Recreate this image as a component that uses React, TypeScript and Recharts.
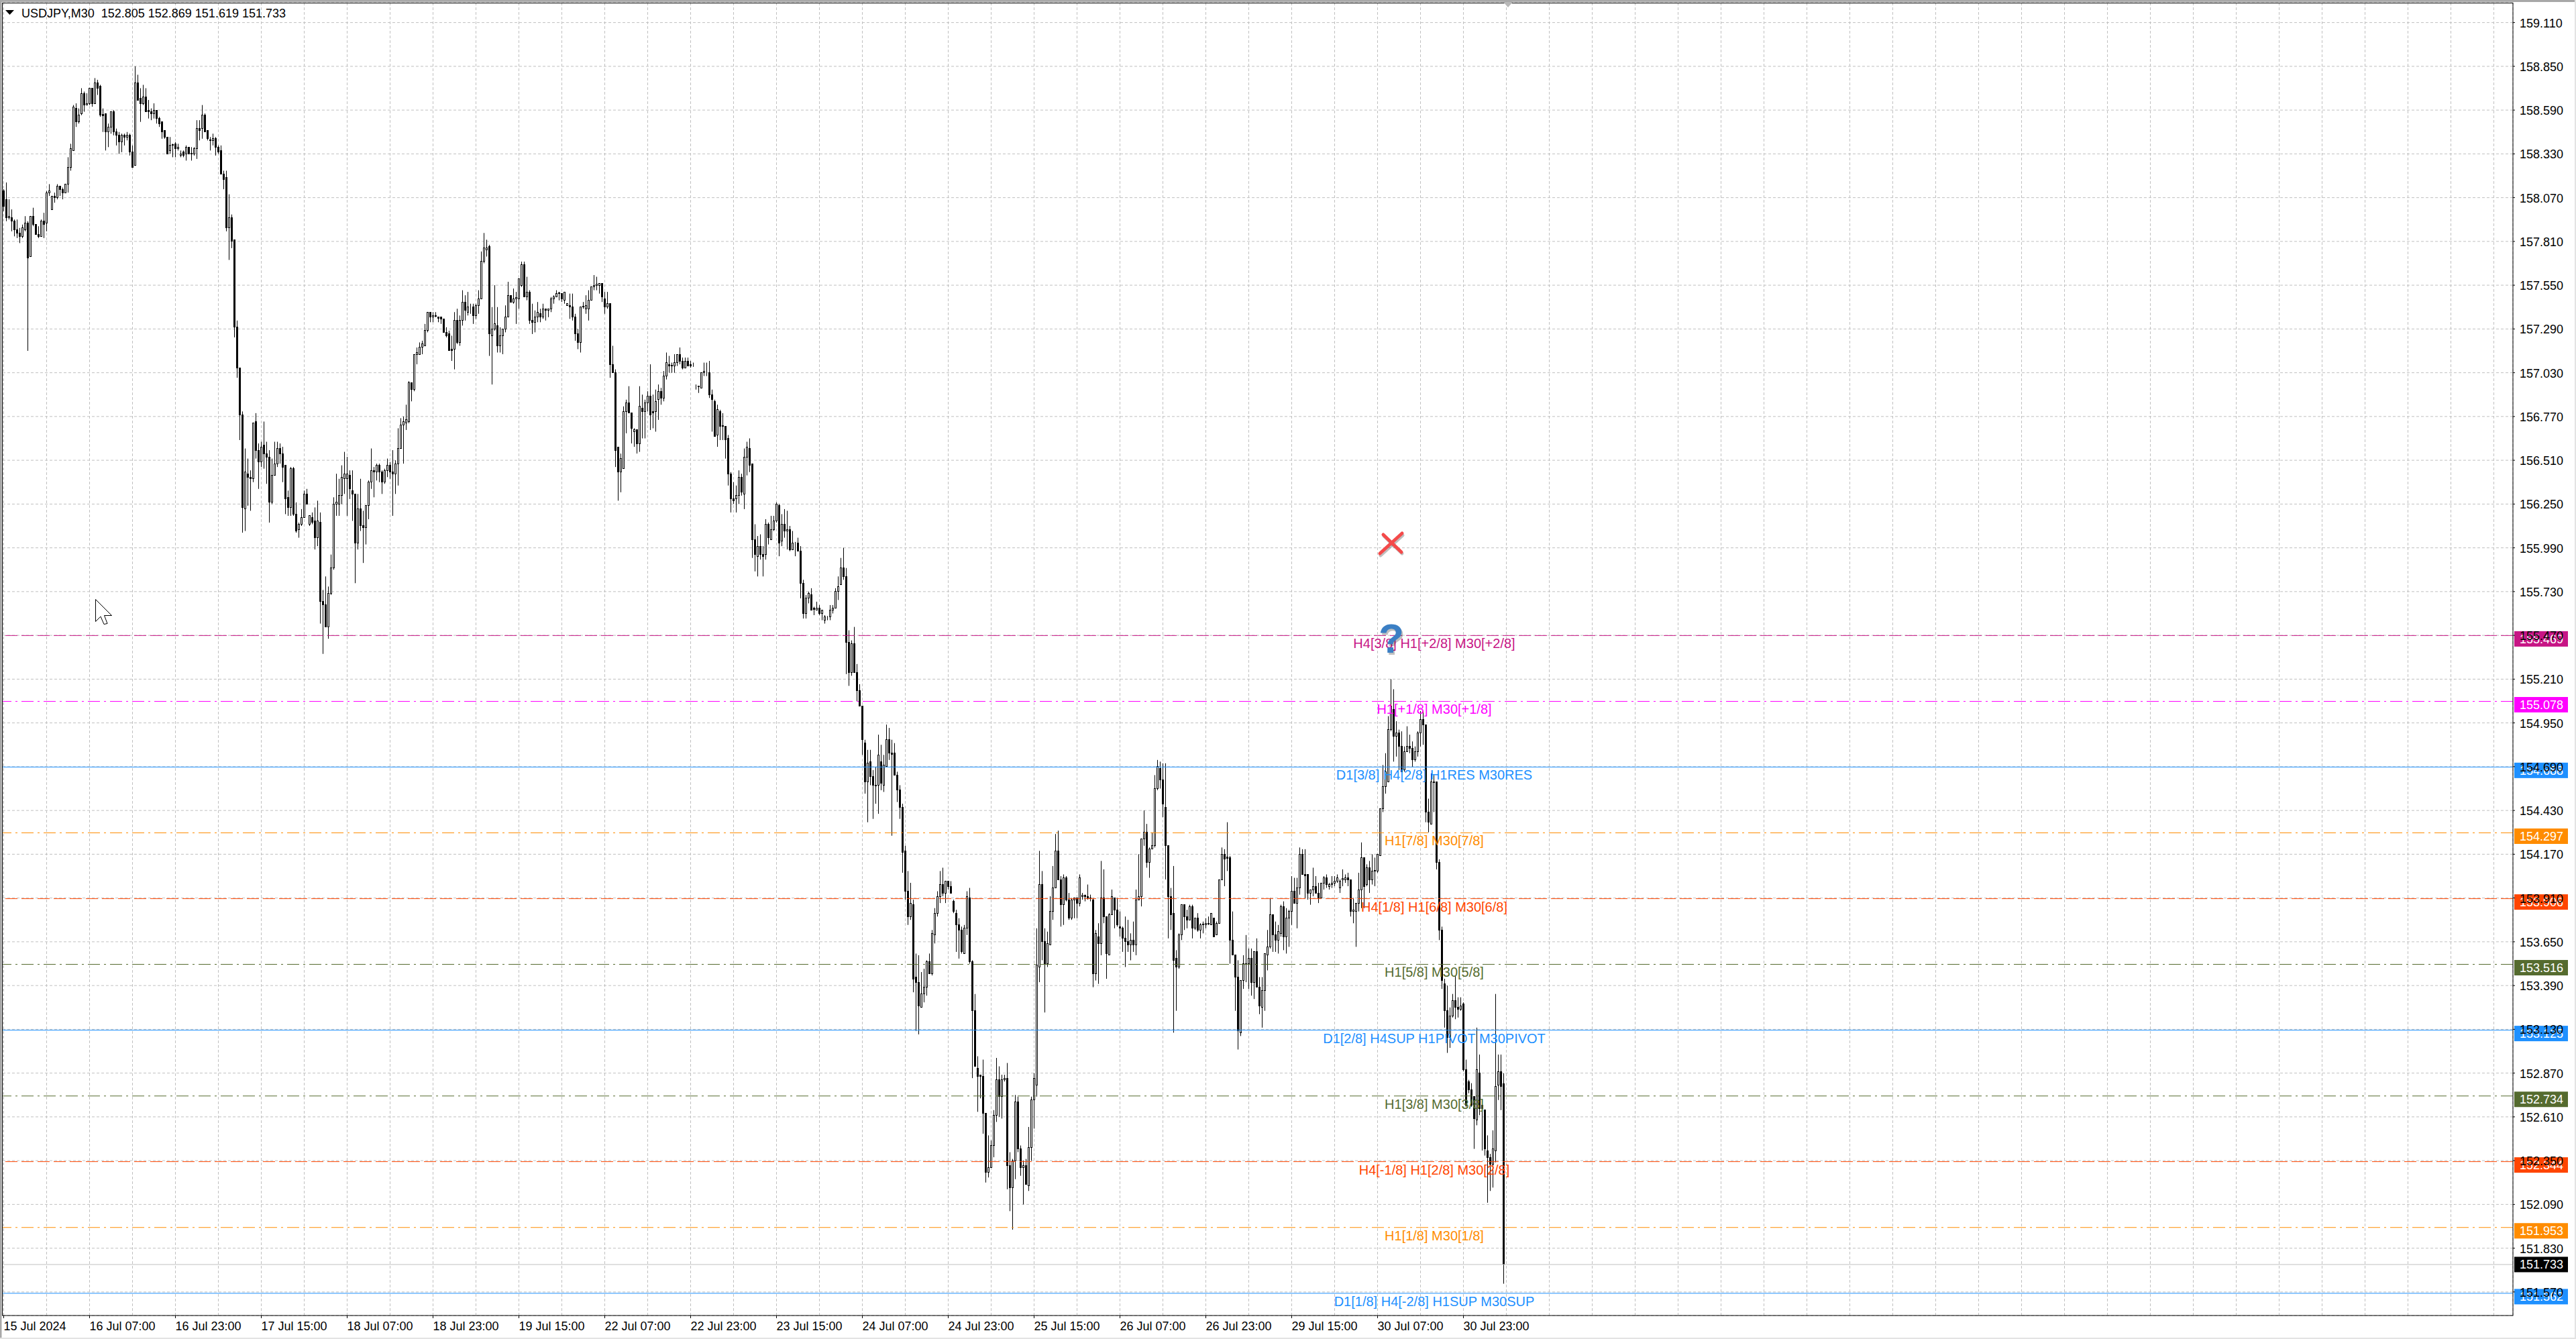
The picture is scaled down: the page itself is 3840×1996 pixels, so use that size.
import React from "react";
import { ComposedChart, Bar, XAxis, YAxis, CartesianGrid, ReferenceLine } from "recharts";

// open, high, low, close, one list per date tick (32 bars of M30)
const session01 = [
  [158.11,158.12,157.99,158.02],[158.06,158.16,157.93,157.95],[157.95,158.06,157.94,157.96],[157.95,158.0,157.87,157.93],
  [157.93,157.94,157.84,157.88],[157.88,157.94,157.83,157.86],[157.86,157.89,157.80,157.84],[157.84,157.91,157.83,157.89],
  [157.88,157.96,157.87,157.92],[157.92,157.93,157.16,157.71],[157.72,157.96,157.72,157.96],[157.96,158.01,157.90,157.91],
  [157.91,157.91,157.85,157.85],[157.85,157.90,157.83,157.84],[157.84,157.94,157.84,157.93],[157.93,157.98,157.83,157.91],
  [157.92,158.11,157.87,158.10],[158.10,158.15,158.08,158.11],[158.0,158.08,158.0,158.08],[158.08,158.10,158.04,158.07],
  [158.07,158.15,158.06,158.14],[158.14,158.14,158.08,158.12],[158.12,158.13,158.06,158.10],[158.10,158.15,158.10,158.15],
  [158.15,158.31,158.10,158.25],[158.25,158.39,158.23,158.36],[158.35,158.62,158.35,158.61],[158.60,158.63,158.49,158.52],
  [158.52,158.60,158.51,158.56],[158.57,158.72,158.56,158.69],[158.69,158.70,158.58,158.62],[158.62,158.69,158.62,158.63],
];
const session02 = [
  [158.63,158.72,158.62,158.72],[158.72,158.72,158.61,158.63],[158.63,158.78,158.63,158.75],[158.75,158.77,158.68,158.72],
  [158.73,158.74,158.55,158.56],[158.565,158.60,158.46,158.555],[158.57,158.57,158.35,158.46],[158.46,158.51,158.37,158.49],
  [158.49,158.58,158.45,158.58],[158.58,158.59,158.44,158.46],[158.46,158.48,158.38,158.44],[158.44,158.46,158.33,158.40],
  [158.40,158.45,158.34,158.44],[158.44,158.45,158.38,158.43],[158.43,158.46,158.41,158.44],[158.44,158.45,158.32,158.34],
  [158.34,158.38,158.25,158.25],[158.26,158.85,158.26,158.75],[158.75,158.80,158.65,158.65],[158.66,158.72,158.52,158.63],
  [158.63,158.74,158.62,158.67],[158.67,158.72,158.58,158.58],[158.59,158.65,158.54,158.58],[158.58,158.60,158.53,158.57],
  [158.57,158.63,158.54,158.59],[158.59,158.59,158.51,158.54],[158.54,158.55,158.49,158.51],[158.52,158.52,158.42,158.46],
  [158.47,158.47,158.42,158.43],[158.43,158.43,158.33,158.33],[158.35,158.43,158.33,158.38],[158.385,158.39,158.31,158.38],
];
const session03 = [
  [158.39,158.40,158.31,158.36],[158.36,158.39,158.35,158.37],[158.32,158.35,158.31,158.33],[158.34,158.35,158.31,158.32],
  [158.33,158.38,158.29,158.37],[158.37,158.37,158.33,158.33],[158.335,158.37,158.29,158.33],[158.33,158.37,158.32,158.36],
  [158.36,158.53,158.30,158.48],[158.48,158.53,158.41,158.47],[158.48,158.62,158.42,158.56],[158.56,158.57,158.46,158.46],
  [158.47,158.47,158.41,158.42],[158.415,158.43,158.35,158.41],[158.41,158.45,158.38,158.42],[158.42,158.43,158.32,158.37],
  [158.37,158.38,158.33,158.34],[158.35,158.38,158.21,158.21],[158.21,158.23,158.12,158.18],[158.19,158.23,157.87,157.89],
  [157.89,158.09,157.70,157.95],[157.95,157.97,157.77,157.81],[157.82,157.82,157.24,157.30],[157.30,157.34,157.00,157.06],
  [157.06,157.06,156.63,156.78],[156.78,156.80,156.08,156.23],[156.22,156.58,156.09,156.44],[156.43,156.52,156.24,156.41],
  [156.41,156.45,156.21,156.40],[156.40,156.73,156.38,156.73],[156.74,156.79,156.52,156.57],[156.57,156.61,156.34,156.50],
];
const session04 = [
  [156.50,156.62,156.47,156.59],[156.60,156.74,156.46,156.55],[156.55,156.62,156.37,156.53],[156.53,156.57,156.14,156.26],
  [156.26,156.52,156.25,156.42],[156.42,156.62,156.42,156.49],[156.49,156.62,156.47,156.58],[156.58,156.61,156.49,156.55],
  [156.55,156.59,156.38,156.47],[156.48,156.48,156.19,156.28],[156.29,156.33,156.18,156.23],[156.23,156.47,156.18,156.46],
  [156.46,156.47,156.18,156.19],[156.19,156.26,156.08,156.09],[156.10,156.14,156.05,156.13],[156.13,156.22,156.12,156.17],
  [156.17,156.33,156.17,156.31],[156.31,156.34,156.25,156.25],[156.13,156.18,156.12,156.18],[156.17,156.20,156.13,156.14],
  [156.15,156.23,155.98,156.05],[156.05,156.27,156.0,156.15],[156.14,156.20,155.54,155.67],[155.67,155.74,155.36,155.65],
  [155.65,155.82,155.52,155.52],[155.52,155.76,155.45,155.72],[155.72,155.95,155.71,155.87],[155.87,156.29,155.86,156.25],
  [156.25,156.43,156.18,156.26],[156.25,156.40,156.18,156.30],[156.30,156.48,156.25,156.41],[156.40,156.56,156.31,156.43],
];
const session05 = [
  [156.40,156.53,156.18,156.43],[156.42,156.45,156.28,156.34],[156.33,156.45,156.15,156.31],[156.31,156.31,155.78,156.02],
  [156.02,156.31,155.98,156.22],[156.22,156.40,156.09,156.12],[156.12,156.21,155.90,156.11],[156.11,156.24,156.01,156.24],
  [156.24,156.39,156.16,156.38],[156.38,156.58,156.34,156.45],[156.45,156.47,156.29,156.44],[156.44,156.49,156.39,156.48],
  [156.48,156.49,156.38,156.44],[156.44,156.45,156.31,156.38],[156.38,156.46,156.37,156.45],[156.45,156.52,156.41,156.48],
  [156.48,156.50,156.40,156.44],[156.44,156.57,156.18,156.43],[156.43,156.51,156.31,156.49],[156.49,156.70,156.36,156.58],
  [156.58,156.76,156.58,156.72],[156.72,156.77,156.49,156.74],[156.73,156.84,156.69,156.75],[156.74,156.98,156.73,156.97],
  [156.97,156.97,156.86,156.93],[156.93,157.14,156.92,157.14],[157.14,157.18,157.08,157.15],[157.14,157.21,157.14,157.18],
  [157.18,157.22,157.14,157.20],[157.19,157.32,157.19,157.28],[157.28,157.39,157.27,157.39],[157.39,157.39,157.33,157.36],
];
const session06 = [
  [157.36,157.39,157.33,157.37],[157.37,157.39,157.36,157.365],[157.36,157.36,157.33,157.355],[157.36,157.36,157.32,157.35],
  [157.35,157.35,157.27,157.27],[157.27,157.30,157.24,157.25],[157.26,157.28,157.16,157.16],[157.17,157.25,157.10,157.16],
  [157.17,157.39,157.05,157.34],[157.34,157.41,157.20,157.21],[157.21,157.37,157.19,157.34],[157.34,157.52,157.31,157.45],
  [157.45,157.49,157.34,157.40],[157.39,157.51,157.37,157.42],[157.42,157.44,157.38,157.42],[157.42,157.44,157.32,157.37],
  [157.37,157.44,157.35,157.43],[157.43,157.52,157.38,157.47],[157.47,157.75,157.47,157.69],[157.69,157.86,157.68,157.77],
  [157.76,157.82,157.72,157.77],[157.78,157.79,157.13,157.26],[157.25,157.42,156.96,157.29],[157.29,157.55,157.28,157.32],
  [157.31,157.42,157.15,157.19],[157.19,157.30,157.15,157.25],[157.25,157.29,157.14,157.29],[157.29,157.43,157.27,157.36],
  [157.36,157.57,157.36,157.49],[157.49,157.49,157.45,157.45],[157.45,157.53,157.44,157.47],[157.47,157.51,157.32,157.475],
];
const session07 = [
  [157.47,157.59,157.41,157.59],[157.55,157.69,157.54,157.67],[157.67,157.69,157.48,157.48],[157.48,157.60,157.46,157.51],
  [157.51,157.52,157.32,157.34],[157.34,157.44,157.26,157.33],[157.33,157.40,157.27,157.36],[157.36,157.45,157.33,157.39],
  [157.38,157.41,157.33,157.36],[157.36,157.44,157.35,157.41],[157.41,157.41,157.34,157.40],[157.40,157.41,157.36,157.41],
  [157.41,157.48,157.39,157.47],[157.47,157.49,157.44,157.48],[157.48,157.52,157.48,157.50],[157.50,157.51,157.46,157.505],
  [157.50,157.50,157.45,157.47],[157.46,157.51,157.44,157.51],[157.43,157.44,157.43,157.44],[157.43,157.50,157.35,157.42],
  [157.42,157.50,157.34,157.36],[157.36,157.38,157.22,157.26],[157.26,157.29,157.17,157.21],[157.21,157.42,157.15,157.42],
  [157.42,157.45,157.41,157.425],[157.41,157.49,157.38,157.43],[157.41,157.52,157.34,157.46],[157.46,157.54,157.46,157.54],
  [157.54,157.61,157.52,157.55],[157.55,157.60,157.52,157.555],[157.55,157.56,157.50,157.56],[157.56,157.56,157.45,157.48],
];
const session08 = [
  [157.47,157.51,157.38,157.42],[157.42,157.51,157.41,157.44],[157.44,157.44,157.0,157.08],[157.08,157.19,157.03,157.03],
  [157.03,157.05,156.47,156.57],[156.59,156.59,156.27,156.44],[156.44,156.55,156.32,156.52],[156.46,156.83,156.46,156.80],
  [156.80,156.87,156.67,156.85],[156.85,156.95,156.79,156.79],[156.79,156.79,156.61,156.70],[156.68,156.70,156.59,156.69],
  [156.69,156.69,156.55,156.61],[156.61,156.95,156.56,156.83],[156.82,156.90,156.64,156.80],[156.80,156.87,156.64,156.85],
  [156.85,156.92,156.80,156.89],[156.89,157.08,156.69,156.78],[156.80,156.90,156.70,156.79],[156.80,156.93,156.68,156.86],
  [156.87,156.96,156.75,156.92],[156.92,156.94,156.84,156.88],[156.88,157.04,156.86,157.01],[157.01,157.15,156.99,157.09],
  [157.08,157.13,157.03,157.07],[157.07,157.09,157.03,157.075],[157.07,157.14,157.03,157.09],[157.09,157.14,157.07,157.14],
  [157.14,157.18,157.08,157.10],[157.10,157.12,157.05,157.06],[157.06,157.12,157.06,157.10],[157.10,157.12,157.07,157.07],
];
const session09 = [
  [157.08,157.10,157.06,157.07],[157.07,157.09,157.065,157.07],[156.95,156.96,156.93,156.95],[156.95,156.95,156.91,156.945],
  [156.94,157.03,156.94,157.03],[157.03,157.09,157.01,157.04],[157.03,157.09,157.01,157.03],[157.03,157.10,156.88,156.90],
  [156.90,156.93,156.68,156.87],[156.86,156.87,156.65,156.65],[156.66,156.84,156.59,156.81],[156.80,156.81,156.63,156.71],
  [156.71,156.79,156.63,156.715],[156.71,156.71,156.52,156.63],[156.64,156.66,156.36,156.43],[156.43,156.44,156.20,156.28],
  [156.28,156.38,156.25,156.27],[156.28,156.36,156.20,156.30],[156.30,156.45,156.25,156.41],[156.41,156.43,156.30,156.32],
  [156.31,156.58,156.22,156.53],[156.53,156.62,156.42,156.59],[156.58,156.64,156.44,156.48],[156.49,156.49,155.93,156.04],
  [156.04,156.13,155.85,155.95],[155.94,156.06,155.82,156.0],[156.0,156.07,155.92,155.95],[155.95,156.0,155.82,155.94],
  [155.95,156.16,155.92,156.13],[156.13,156.14,156.01,156.05],[156.04,156.18,156.04,156.10],[156.10,156.18,156.09,156.15],
];
const session10 = [
  [156.15,156.26,156.14,156.25],[156.24,156.25,155.94,156.02],[156.03,156.19,156.0,156.13],[156.13,156.22,156.05,156.09],
  [156.09,156.21,155.98,156.10],[156.10,156.12,155.97,155.98],[155.98,156.09,155.98,156.02],[156.02,156.025,155.94,156.02],
  [156.02,156.05,155.97,155.97],[155.97,156.0,155.69,155.78],[155.78,155.80,155.57,155.60],[155.60,155.71,155.57,155.69],
  [155.69,155.73,155.66,155.72],[155.71,155.75,155.62,155.62],[155.63,155.64,155.59,155.625],[155.62,155.67,155.62,155.63],
  [155.63,155.65,155.59,155.60],[155.60,155.62,155.56,155.62],[155.56,155.59,155.54,155.58],[155.58,155.585,155.56,155.58],
  [155.58,155.65,155.56,155.62],[155.62,155.65,155.60,155.63],[155.63,155.75,155.63,155.73],[155.73,155.82,155.68,155.76],
  [155.77,155.93,155.77,155.87],[155.87,155.99,155.80,155.82],[155.82,155.87,155.24,155.43],[155.43,155.50,155.17,155.25],
  [155.25,155.44,155.23,155.42],[155.42,155.52,155.25,155.25],[155.25,155.30,155.08,155.14],[155.14,155.18,155.05,155.05],
];
const session11 = [
  [155.05,155.05,154.76,154.85],[154.83,154.85,154.53,154.60],[154.60,154.79,154.36,154.71],[154.72,154.79,154.58,154.63],
  [154.63,154.67,154.38,154.58],[154.58,154.69,154.47,154.575],[154.58,154.88,154.41,154.76],[154.72,154.82,154.55,154.59],
  [154.58,154.76,154.54,154.70],[154.69,154.94,154.69,154.85],[154.85,154.92,154.73,154.77],[154.77,154.85,154.28,154.765],
  [154.77,154.83,154.64,154.64],[154.64,154.66,154.48,154.55],[154.55,154.58,154.38,154.45],[154.45,154.47,154.06,154.18],
  [154.19,154.22,153.90,153.95],[153.95,154.07,153.75,153.80],[153.80,154.0,153.78,153.88],[153.87,153.90,153.35,153.43],
  [153.44,153.58,153.12,153.41],[153.41,153.57,153.10,153.27],[153.26,153.47,153.26,153.34],[153.34,153.49,153.29,153.38],
  [153.38,153.54,153.33,153.53],[153.53,153.58,153.46,153.46],[153.46,153.72,153.45,153.70],[153.69,153.85,153.64,153.82],
  [153.82,153.95,153.80,153.92],[153.92,154.07,153.88,153.99],[153.99,154.09,153.92,153.94],[153.94,154.01,153.88,154.01],
];
const session12 = [
  [154.01,154.01,153.96,153.98],[153.98,154.01,153.94,153.94],[153.89,153.90,153.82,153.83],[153.82,153.84,153.59,153.75],
  [153.75,153.79,153.55,153.72],[153.72,153.74,153.58,153.59],[153.58,153.75,153.58,153.73],[153.73,153.95,153.69,153.92],
  [153.91,153.97,153.52,153.53],[153.53,153.54,152.84,153.24],[153.24,153.34,152.91,152.91],[152.90,152.97,152.64,152.85],
  [152.86,152.86,152.72,152.85],[152.85,152.95,152.51,152.63],[152.63,152.63,152.22,152.28],[152.28,152.50,152.25,152.31],
  [152.31,152.47,152.31,152.44],[152.44,152.65,152.37,152.62],[152.62,152.96,152.58,152.83],[152.83,152.91,152.61,152.73],
  [152.73,152.86,152.60,152.83],[152.83,152.86,152.82,152.84],[152.84,152.93,152.18,152.32],[152.32,152.40,152.05,152.19],
  [152.19,152.36,151.94,152.35],[152.35,152.74,152.24,152.70],[152.70,152.73,152.40,152.42],[152.42,152.44,152.26,152.31],
  [152.31,152.35,152.09,152.32],[152.32,152.36,152.21,152.21],[152.20,152.55,152.17,152.43],[152.43,152.73,152.35,152.71],
];
const session13 = [
  [152.71,152.87,152.54,152.84],[152.80,153.73,152.73,153.51],[153.50,154.19,153.41,153.99],[153.99,154.07,153.54,153.65],
  [153.65,153.73,153.23,153.52],[153.52,153.71,153.50,153.64],[153.63,153.92,153.63,153.83],[153.83,154.10,153.78,153.97],
  [153.97,154.29,153.97,154.19],[154.19,154.31,154.02,154.02],[154.02,154.04,153.74,153.87],[153.87,154.05,153.75,154.03],
  [154.03,154.04,153.89,153.90],[153.90,153.94,153.78,153.79],[153.79,153.91,153.78,153.90],[153.90,153.91,153.79,153.91],
  [153.91,153.91,153.79,153.88],[153.88,154.05,153.86,154.03],[153.92,153.94,153.90,153.925],[153.925,153.93,153.89,153.92],
  [153.92,153.99,153.90,153.91],[153.91,153.93,153.89,153.905],[153.90,153.91,153.38,153.46],[153.46,153.72,153.42,153.70],
  [153.68,153.76,153.40,153.64],[153.64,154.13,153.57,153.91],[153.91,154.08,153.76,153.80],[153.80,153.80,153.43,153.58],
  [153.57,153.82,153.57,153.81],[153.81,153.96,153.81,153.92],[153.91,153.91,153.73,153.84],[153.84,153.91,153.74,153.75],
];
const session14 = [
  [153.74,153.83,153.68,153.73],[153.73,153.74,153.59,153.67],[153.67,153.80,153.50,153.65],[153.65,153.78,153.59,153.63],
  [153.63,153.70,153.54,153.66],[153.66,153.77,153.59,153.63],[153.63,153.96,153.57,153.90],[153.90,154.17,153.90,153.92],
  [153.92,154.26,153.86,154.26],[154.26,154.43,154.22,154.30],[154.30,154.35,154.09,154.12],[154.12,154.21,154.03,154.20],
  [154.20,154.30,154.20,154.22],[154.22,154.64,154.21,154.56],[154.56,154.73,154.55,154.69],[154.68,154.72,154.56,154.61],
  [154.61,154.71,154.39,154.47],[154.45,154.71,154.02,154.22],[154.22,154.22,153.67,153.92],[153.92,153.97,153.72,153.81],
  [153.82,154.10,153.11,153.54],[153.55,153.60,153.24,153.50],[153.50,153.70,153.49,153.69],[153.69,153.87,153.66,153.87],
  [153.87,153.87,153.72,153.80],[153.80,153.84,153.73,153.78],[153.78,153.87,153.78,153.86],[153.86,153.87,153.67,153.73],
  [153.73,153.79,153.72,153.79],[153.79,153.82,153.71,153.72],[153.72,153.76,153.67,153.75],[153.75,153.77,153.70,153.755],
];
const session15 = [
  [153.75,153.79,153.73,153.76],[153.76,153.80,153.75,153.755],[153.75,153.82,153.75,153.82],[153.79,153.79,153.68,153.68],
  [153.69,153.77,153.69,153.76],[153.76,154.02,153.76,154.02],[154.02,154.21,154.02,154.17],[154.17,154.20,153.98,154.14],
  [154.155,154.36,154.07,154.145],[154.15,154.16,153.52,153.66],[153.66,153.83,153.57,153.57],[153.57,153.57,153.24,153.44],
  [153.44,153.54,153.01,153.12],[153.11,153.42,153.09,153.42],[153.42,153.57,153.37,153.52],[153.52,153.69,153.41,153.515],
  [153.52,153.61,153.37,153.55],[153.55,153.61,153.33,153.41],[153.41,153.59,153.31,153.59],[153.59,153.67,153.38,153.38],
  [153.38,153.44,153.22,153.27],[153.26,153.44,153.14,153.36],[153.36,153.58,153.24,153.58],[153.57,153.72,153.48,153.62],
  [153.62,153.91,153.61,153.81],[153.81,153.81,153.59,153.69],[153.69,153.77,153.59,153.66],[153.66,153.75,153.58,153.71],
  [153.70,153.87,153.68,153.86],[153.86,153.89,153.60,153.68],[153.68,153.85,153.58,153.79],[153.79,153.84,153.62,153.83],
];
const session16 = [
  [153.83,154.04,153.75,153.95],[153.95,154.03,153.88,153.88],[153.88,154.03,153.73,153.97],[153.97,154.21,153.93,154.17],
  [154.17,154.20,154.05,154.05],[154.05,154.20,153.91,154.04],[154.05,154.05,153.90,153.94],[153.94,153.96,153.87,153.96],
  [153.96,154.09,153.92,153.98],[153.98,154.04,153.94,153.94],[153.94,154.0,153.88,153.91],[153.91,154.0,153.91,154.0],
  [154.0,154.04,153.96,154.03],[154.03,154.05,153.97,153.99],[153.98,154.0,153.96,153.99],[153.99,154.04,153.97,154.0],
  [154.0,154.04,153.98,154.01],[154.01,154.05,154.0,154.03],[153.97,154.02,153.94,154.01],[154.02,154.08,153.98,154.025],
  [154.02,154.05,154.0,154.03],[154.03,154.06,153.98,154.02],[154.02,154.02,153.80,153.83],[153.83,153.91,153.76,153.84],
  [153.83,153.88,153.62,153.88],[153.88,154.06,153.83,153.96],[153.96,154.24,153.85,154.15],[154.15,154.15,153.85,153.98],
  [153.99,154.11,153.98,154.09],[154.09,154.13,153.94,154.02],[154.02,154.17,153.99,154.07],[154.07,154.15,153.98,154.075],
];
const session17 = [
  [154.07,154.17,154.06,154.17],[154.16,154.44,154.16,154.44],[154.44,154.70,154.42,154.57],[154.57,154.77,154.53,154.66],
  [154.60,154.99,154.60,154.91],[154.91,155.21,154.90,155.05],[155.03,155.15,154.72,154.87],[154.87,154.96,154.75,154.89],
  [154.89,154.91,154.67,154.81],[154.81,154.90,154.66,154.66],[154.67,154.81,154.66,154.78],[154.78,154.93,154.78,154.81],
  [154.81,154.88,154.77,154.80],[154.80,154.84,154.69,154.73],[154.73,154.81,154.72,154.78],[154.78,154.90,154.75,154.89],
  [154.89,155.02,154.81,154.97],[154.97,155.02,154.82,154.94],[154.94,154.94,154.36,154.42],[154.42,154.50,154.30,154.36],
  [154.35,154.65,154.35,154.60],[154.60,154.64,154.42,154.595],[154.60,154.60,154.08,154.12],[154.12,154.14,153.66,153.72],
  [153.72,153.74,153.37,153.42],[153.40,153.43,153.14,153.24],[153.24,153.39,152.99,153.08],[153.08,153.26,153.02,153.21],
  [153.21,153.34,153.20,153.30],[153.30,153.45,153.19,153.26],[153.26,153.32,153.20,153.25],[153.25,153.32,153.24,153.27],
];
const session18 = [
  [153.28,153.29,152.88,152.89],[152.89,152.95,152.67,152.68],[152.82,152.83,152.75,152.77],[152.77,152.81,152.67,152.68],
  [152.73,152.73,152.42,152.60],[152.59,153.14,152.56,152.89],[152.87,152.98,152.62,152.66],[152.68,152.71,152.41,152.66],
  [152.65,152.65,152.38,152.42],[152.41,152.50,152.10,152.37],[152.37,152.39,152.17,152.33],[152.33,152.53,152.19,152.42],
  [152.41,153.34,152.34,152.79],[152.80,152.98,152.71,152.88],[152.88,152.98,152.65,152.79],[152.805,152.869,151.619,151.733],
];

const dateLabels = [
  "15 Jul 2024", "16 Jul 07:00", "16 Jul 23:00", "17 Jul 15:00", "18 Jul 07:00", "18 Jul 23:00",
  "19 Jul 15:00", "22 Jul 07:00", "22 Jul 23:00", "23 Jul 15:00", "24 Jul 07:00", "24 Jul 23:00",
  "25 Jul 15:00", "26 Jul 07:00", "26 Jul 23:00", "29 Jul 15:00", "30 Jul 07:00", "30 Jul 23:00",
];
const priceTicks = [
  159.11, 158.85, 158.59, 158.33, 158.07, 157.81, 157.55, 157.29, 157.03, 156.77, 156.51, 156.25, 155.99, 155.73, 155.47,
  155.21, 154.95, 154.69, 154.43, 154.17, 153.91, 153.65, 153.39, 153.13, 152.87, 152.61, 152.35, 152.09, 151.83, 151.57,
];
const levelPrices = [155.469, 155.078, 154.688, 154.297, 153.906, 153.516, 153.125, 152.734, 152.344, 151.953, 151.562];
const levelNames = [
  "H4[3/8] H1[+2/8] M30[+2/8]", "H1[+1/8] M30[+1/8]", "D1[3/8] H4[2/8] H1RES M30RES", "H1[7/8] M30[7/8]",
  "H4[1/8] H1[6/8] M30[6/8]", "H1[5/8] M30[5/8]", "D1[2/8] H4SUP H1PIVOT M30PIVOT", "H1[3/8] M30[3/8]",
  "H4[-1/8] H1[2/8] M30[2/8]", "H1[1/8] M30[1/8]", "D1[1/8] H4[-2/8] H1SUP M30SUP",
];
const levelColors = ["#C71585", "#FF00FF", "#1E90FF", "#FF8C00", "#FF4500", "#556B2F", "#1E90FF", "#556B2F", "#FF4500", "#FF8C00", "#1E90FF"];
const levelDashes = ["18 6", "18 6 3 6", undefined, "18 6 3 6", "18 6", "18 6 3 6", undefined, "18 6 3 6", "18 6", "18 6 3 6", undefined];
const lastPrice = 151.733;

const BARS_PER_GRID = 16;
const BARS_PER_LABEL = 32;

const candles = [
  session01, session02, session03, session04, session05, session06, session07, session08, session09,
  session10, session11, session12, session13, session14, session15, session16, session17, session18,
].flat().map(([open, high, low, close], idx) => ({ idx, open, high, low, close, range: [low, high] }));

const gridTicks = Array.from({ length: 59 }, (_, i) => i * BARS_PER_GRID);

const FONT = "'Liberation Sans', Arial, sans-serif";
const PLOT_BOTTOM = 1961;
const PLOT_RIGHT = 3746;
const LEVEL_TEXT_X = 2138;

const snap = (v: number) => Math.round(v - 0.5) + 0.5;

function Candle(props: any) {
  const { x, y, width, height, payload } = props;
  const { open, high, low, close } = payload;
  const h = Math.abs(height);
  const perPrice = h / (high - low);
  const cx = snap(x + width / 2);
  const yOf = (p: number) => y + (high - p) * perPrice;
  const top = snap(yOf(Math.max(open, close)));
  const bottom = snap(yOf(Math.min(open, close)));
  const bull = close >= open;
  return (
    <g>
      <line x1={cx} x2={cx} y1={y} y2={y + h} stroke="#000" strokeWidth={1} />
      {bull ? (
        <rect x={cx - 1} y={top} width={2} height={bottom - top} fill="#fff" stroke="#000" strokeWidth={1} />
      ) : (
        <rect x={cx - 1.5} y={top - 0.5} width={3} height={bottom - top + 1} fill="#000" />
      )}
    </g>
  );
}

function DateTick(props: any) {
  const { x, payload } = props;
  const i = payload.value / BARS_PER_LABEL;
  const label = dateLabels[i];
  if (label === undefined) return <g />;
  return (
    <g>
      <line x1={x} x2={x} y1={PLOT_BOTTOM} y2={PLOT_BOTTOM + 4} stroke="#000" />
      <text x={x} y={1983} fontFamily={FONT} fontSize={18} fill="#000">{label}</text>
    </g>
  );
}

function PriceTick(props: any) {
  const { y, payload } = props;
  return (
    <g>
      <line x1={PLOT_RIGHT} x2={PLOT_RIGHT + 3} y1={y} y2={y} stroke="#000" />
      <text x={3756} y={y + 7} fontFamily={FONT} fontSize={18} fill="#000">{payload.value.toFixed(3)}</text>
    </g>
  );
}

function PriceTag({ viewBox, price, name, color, centered }: any) {
  const y = viewBox.y;
  const dy = centered ? 0 : 5;
  return (
    <g>
      {name && (
        <text x={LEVEL_TEXT_X} y={y + 19} textAnchor="middle" fontFamily={FONT} fontSize={20} fill={color}>{name}</text>
      )}
      <rect x={3748} y={y + dy - 11.5} width={80} height={23} fill={color} />
      <text x={3756} y={y + dy + 6.5} fontFamily={FONT} fontSize={18} fill="#fff">{price.toFixed(3)}</text>
    </g>
  );
}

function Decorations() {
  return (
    <svg width={3840} height={1996} style={{ position: "absolute", left: 0, top: 0, pointerEvents: "none" }}>
      <rect x={0} y={0} width={3840} height={3} fill="#A8A8A8" />
      <rect x={0} y={0} width={2.5} height={1996} fill="#A8A8A8" />
      <rect x={3838} y={0} width={2} height={1996} fill="#E3E3E3" />
      <rect x={0} y={1994} width={3840} height={2} fill="#E3E3E3" />
      <rect x={3.5} y={4.5} width={3742.5} height={1956.5} fill="none" stroke="#000" strokeWidth={1} />
      <polygon points="2241,3 2255,3 2248,11" fill="#B8B8B8" />
      <polygon points="8,15 21,15 14.5,22" fill="#000" />
      <text x={32} y={26} fontFamily={FONT} fontSize={18} fill="#000" style={{ whiteSpace: "pre" }}>
        USDJPY,M30  152.805 152.869 151.619 151.733
      </text>
      <polygon
        points="142.5,893.5 166.5,917.5 155.5,917.5 160,929.5 155,930.5 150,919 142.5,926.5"
        fill="#fff"
        stroke="#000"
        strokeWidth={1}
      />
      <g stroke="#000" strokeOpacity={0.25} strokeWidth={5} strokeLinecap="round">
        <line x1={2058} y1={828} x2={2091} y2={798} />
        <line x1={2063} y1={799} x2={2090} y2={825} />
      </g>
      <g stroke="#F44A4A" strokeWidth={5} strokeLinecap="round">
        <line x1={2057} y1={825} x2={2090} y2={795} />
        <line x1={2062} y1={797} x2={2089} y2={823} />
      </g>
      <text x={2076} y={976} textAnchor="middle" fontFamily={FONT} fontWeight="bold" fontSize={62} fill="#000" fillOpacity={0.25}>?</text>
      <text x={2074} y={973} textAnchor="middle" fontFamily={FONT} fontWeight="bold" fontSize={62} fill="#3B7FC4">?</text>
    </svg>
  );
}

export default function App() {
  return (
    <div style={{ position: "absolute", left: 0, top: 0, width: 3840, height: 1996, background: "#fff", overflow: "hidden" }}>
      <ComposedChart width={3840} height={1996} data={candles} margin={{ top: 4, right: 0, bottom: 0, left: 4 }} barSize={3}>
        <CartesianGrid stroke="#C0C0C0" strokeDasharray="4 3" />
        <XAxis
          type="number"
          dataKey="idx"
          domain={[-0.375, 935.125]}
          allowDataOverflow
          ticks={gridTicks}
          interval={0}
          height={35}
          tickLine={false}
          axisLine={false}
          tick={<DateTick />}
        />
        <YAxis
          orientation="right"
          domain={[151.43, 159.228]}
          allowDataOverflow
          ticks={priceTicks}
          interval={0}
          width={94}
          tickLine={false}
          axisLine={false}
          tick={<PriceTick />}
        />
        <ReferenceLine y={lastPrice} stroke="#C0C0C0" label={<PriceTag price={lastPrice} color="#000" centered />} />
        {levelPrices.map((price, i) => (
          <ReferenceLine
            key={price}
            y={price}
            stroke={levelColors[i]}
            strokeDasharray={levelDashes[i]}
            label={<PriceTag price={price} name={levelNames[i]} color={levelColors[i]} />}
          />
        ))}
        <Bar dataKey="range" isAnimationActive={false} shape={<Candle />} />
      </ComposedChart>
      <Decorations />
    </div>
  );
}
